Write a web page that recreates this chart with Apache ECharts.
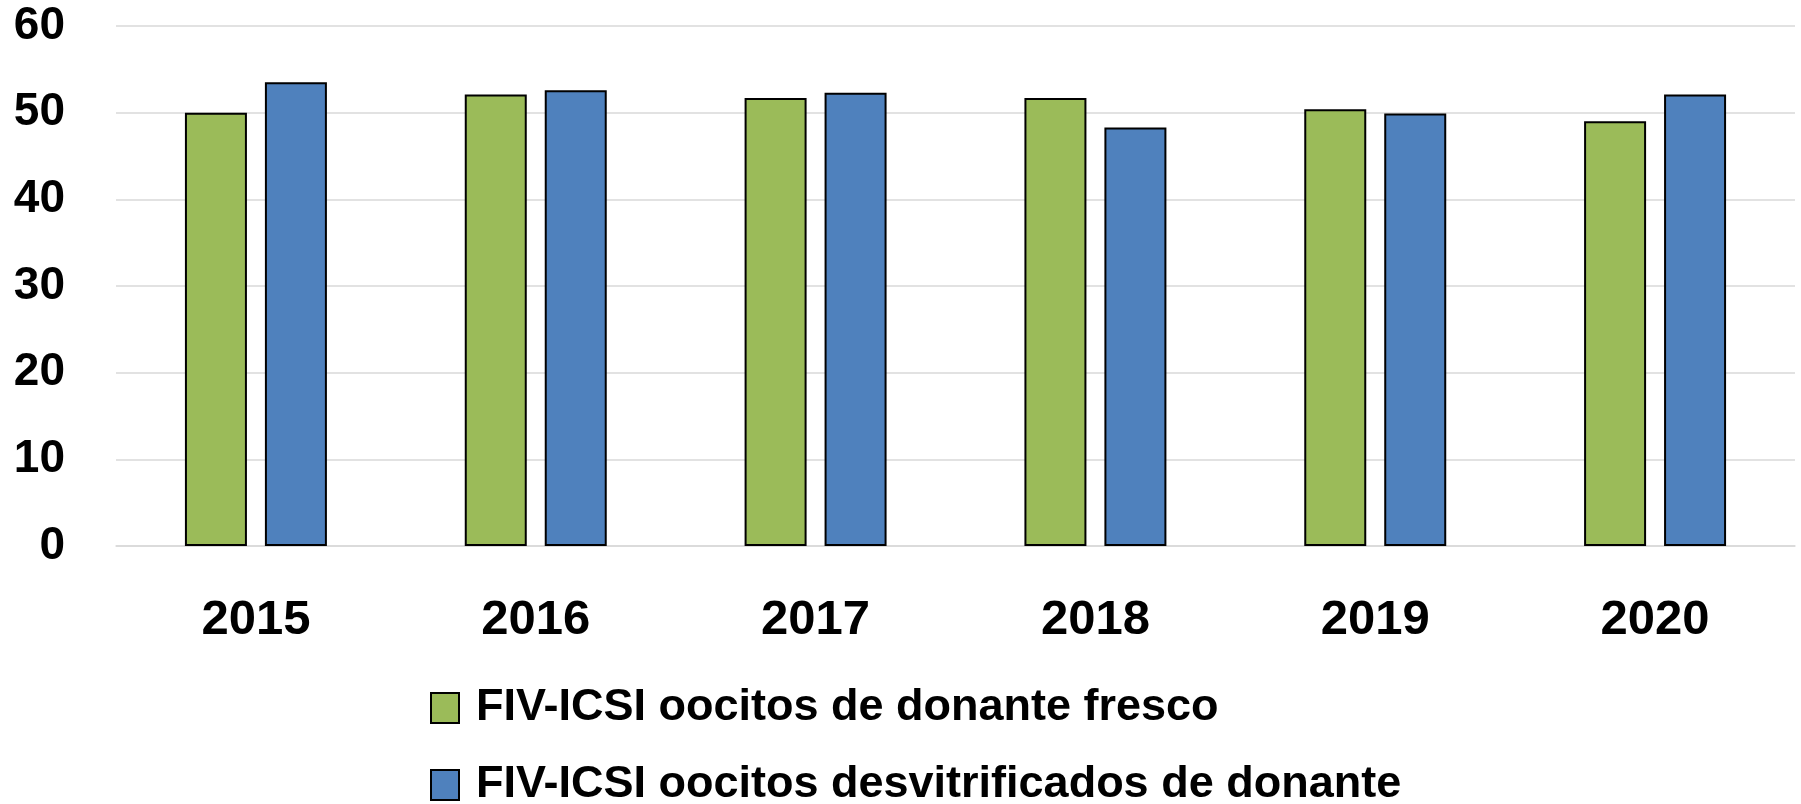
<!DOCTYPE html>
<html>
<head>
<meta charset="utf-8">
<script src="https://cdn.jsdelivr.net/npm/echarts@6/dist/echarts.min.js"></script>
<style>
  html, body { margin: 0; padding: 0; background: #ffffff; }
  #main { width: 1801px; height: 804px; }
</style>
</head>
<body>
<div id="main"></div>
<script>
// datos
var years = ['2015', '2016', '2017', '2018', '2019', '2020'];
var fresco = [50.0, 52.1, 51.7, 51.7, 50.4, 49.0];
var desvitrificados = [53.5, 52.6, 52.3, 48.3, 49.9, 52.1];
var seriesNames = ['FIV-ICSI oocitos de donante fresco', 'FIV-ICSI oocitos desvitrificados de donante'];

var font = 'Liberation Sans, Arial, sans-serif';

// una leyenda por fila
var legendBase = function (top, name) {
    return {
        left: 425,
        top: top,
        itemWidth: 28,
        itemHeight: 30,
        icon: 'rect',
        textStyle: {
            fontFamily: font,
            fontWeight: 'bold',
            fontSize: 45,
            lineHeight: 46,
            color: '#000000',
            padding: [0, 0, 0, 12]
        },
        data: [name]
    };
};

var myChart = echarts.init(document.getElementById('main'));
myChart.setOption({
    animation: false,
    grid: {
        left: 116,
        right: 6,
        top: 26,
        bottom: 258
    },
    legend: [
        legendBase(680, seriesNames[0]),
        legendBase(757, seriesNames[1])
    ],
    xAxis: {
        type: 'category',
        data: years,
        axisLine: { show: true, lineStyle: { color: '#d9d9d9', width: 1.5 } },
        axisTick: { show: false },
        axisLabel: {
            margin: 50,
            fontFamily: font,
            fontWeight: 'bold',
            fontSize: 49,
            color: '#000000'
        }
    },
    yAxis: {
        type: 'value',
        min: 0,
        max: 60,
        interval: 10,
        axisLine: { show: false },
        axisTick: { show: false },
        axisLabel: {
            margin: 51,
            fontFamily: font,
            fontWeight: 'bold',
            fontSize: 46,
            color: '#000000'
        },
        splitLine: { lineStyle: { color: '#d9d9d9', width: 1.5 } }
    },
    series: [
        {
            name: seriesNames[0],
            type: 'bar',
            data: fresco,
            barWidth: 62,
            barGap: '29%',
            itemStyle: { color: '#9BBB59', borderColor: '#000000', borderWidth: 2 }
        },
        {
            name: seriesNames[1],
            type: 'bar',
            data: desvitrificados,
            barWidth: 62,
            barGap: '29%',
            itemStyle: { color: '#4F81BD', borderColor: '#000000', borderWidth: 2 }
        }
    ]
});
</script>
</body>
</html>
